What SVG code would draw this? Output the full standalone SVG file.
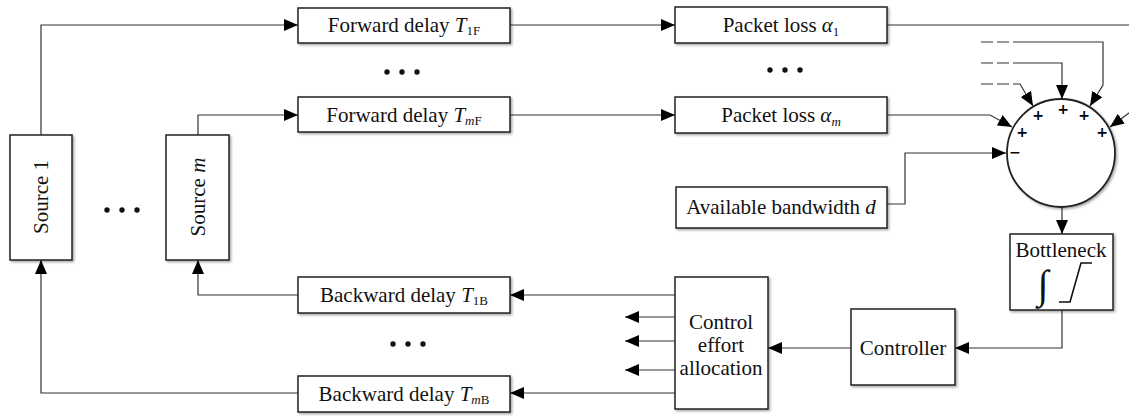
<svg xmlns="http://www.w3.org/2000/svg" width="1129" height="416" viewBox="0 0 1129 416">
<style>
.box{fill:#fff;stroke:#222;stroke-width:1.5;filter:url(#sh)}
.ln{fill:none;stroke:#333;stroke-width:1.2}
.ar{fill:none;stroke:#333;stroke-width:1.2;marker-end:url(#ah)}
.t{font-family:"Liberation Serif","Times New Roman",serif;font-size:21px;fill:#111;text-anchor:middle}
.i{font-style:italic}
.sub{font-size:13px}
.sg{font-family:"DejaVu Sans","Liberation Sans",sans-serif;font-size:14px;font-weight:bold;fill:#000;text-anchor:middle}
.dot{fill:#111}
</style>
<defs>
<filter id="sh" x="-10%" y="-10%" width="130%" height="140%">
<feDropShadow dx="1.5" dy="1.5" stdDeviation="1" flood-color="#000" flood-opacity="0.35"/>
</filter>
<marker id="ah" viewBox="0 0 14 12" refX="14" refY="6" markerWidth="14" markerHeight="12" markerUnits="userSpaceOnUse" orient="auto">
<path d="M0,0 L14,6 L0,12 Z" fill="#000"/>
</marker>
<g id="dots3"><circle cx="0" cy="0" r="2.7"/><circle cx="15" cy="0" r="2.7"/><circle cx="30" cy="0" r="2.7"/></g>
</defs>

<g id="connectors">
<polyline class="ar" points="41,135 41,25 298,25"/>
<polyline class="ar" points="198,135 198,115 298,115"/>
<line class="ar" x1="510" y1="25" x2="675" y2="25"/>
<line class="ar" x1="510" y1="115" x2="675" y2="115"/>
<line class="ln" x1="887" y1="25" x2="1129" y2="25"/>
<polyline class="ar" points="887,115 990,115 1012,127"/>
<polyline class="ar" points="887,204 905,204 905,153 1006,153"/>
<line class="ln" x1="981" y1="42" x2="1015" y2="42" stroke-dasharray="12,4"/>
<polyline class="ar" points="1015,42 1103,42 1103,85 1090,106"/>
<line class="ln" x1="981" y1="63" x2="1015" y2="63" stroke-dasharray="12,4"/>
<polyline class="ar" points="1015,63 1062,63 1062,99"/>
<line class="ln" x1="981" y1="84" x2="1015" y2="84" stroke-dasharray="12,4"/>
<polyline class="ar" points="1015,84 1020,84 1033,106"/>
<line class="ar" x1="1129" y1="113" x2="1110" y2="127"/>
<line class="ar" x1="1062" y1="207" x2="1062" y2="234"/>
<polyline class="ar" points="1062,310 1062,348 955,348"/>
<line class="ar" x1="851" y1="348" x2="768" y2="348"/>
<line class="ar" x1="675" y1="295" x2="510" y2="295"/>
<line class="ar" x1="675" y1="393" x2="510" y2="393"/>
<line class="ar" x1="675" y1="317" x2="625" y2="317"/>
<line class="ar" x1="675" y1="341" x2="625" y2="341"/>
<line class="ar" x1="675" y1="370" x2="625" y2="370"/>
<polyline class="ar" points="298,295 198,295 198,260"/>
<polyline class="ar" points="298,393 41,393 41,260"/>
</g>

<g id="source1">
<rect class="box" x="10" y="135" width="62" height="125"/>
<text class="t" transform="translate(48,197) rotate(-90)">Source 1</text>
</g>
<g id="sourcem">
<rect class="box" x="166" y="135" width="63" height="125"/>
<text class="t" transform="translate(205,197) rotate(-90)">Source  <tspan class="i">m</tspan></text>
</g>

<g id="fwd1">
<rect class="box" x="298" y="8" width="212" height="35"/>
<text class="t" x="404" y="32">Forward delay <tspan class="i">T</tspan><tspan class="sub" dy="3">1F</tspan></text>
</g>
<g id="fwdm">
<rect class="box" x="298" y="97" width="212" height="35"/>
<text class="t" x="404" y="122">Forward delay <tspan class="i">T</tspan><tspan class="sub i" dy="3">m</tspan><tspan class="sub">F</tspan></text>
</g>
<g id="loss1">
<rect class="box" x="675" y="7" width="212" height="36"/>
<text class="t" x="781" y="32">Packet loss  <tspan class="i">α</tspan><tspan class="sub" dy="4">1</tspan></text>
</g>
<g id="lossm">
<rect class="box" x="675" y="97" width="212" height="36"/>
<text class="t" x="781" y="122">Packet loss  <tspan class="i">α</tspan><tspan class="sub i" dy="4">m</tspan></text>
</g>
<g id="bandwidth">
<rect class="box" x="676" y="187" width="211" height="41"/>
<text class="t" x="781" y="214">Available bandwidth <tspan class="i">d</tspan></text>
</g>

<g id="sum">
<circle cx="1061" cy="153" r="54" fill="#fff" stroke="#222" stroke-width="1.8" filter="url(#sh)"/>
<text class="sg" x="1022" y="137">+</text>
<text class="sg" x="1038" y="120">+</text>
<text class="sg" x="1063" y="114">+</text>
<text class="sg" x="1084" y="120">+</text>
<text class="sg" x="1102" y="137">+</text>
<text class="sg" x="1015" y="157">−</text>
</g>

<g id="bottleneck">
<rect class="box" x="1010" y="234" width="103" height="76"/>
<text class="t" x="1061" y="257">Bottleneck</text>
<text class="t" x="1043" y="298" style="font-size:40px">∫</text>
<polyline fill="none" stroke="#111" stroke-width="1.6" points="1059,302 1070,302 1081,263 1092,263"/>
</g>

<g id="controller">
<rect class="box" x="851" y="309" width="104" height="76"/>
<text class="t" x="903" y="355">Controller</text>
</g>

<g id="allocation">
<rect class="box" x="675" y="277" width="93" height="132"/>
<text class="t" x="721" y="329">Control</text>
<text class="t" x="721" y="352">effort</text>
<text class="t" x="721" y="375">allocation</text>
</g>

<g id="bwd1">
<rect class="box" x="298" y="277" width="212" height="36"/>
<text class="t" x="404" y="302">Backward delay  <tspan class="i">T</tspan><tspan class="sub" dy="3">1B</tspan></text>
</g>
<g id="bwdm">
<rect class="box" x="298" y="376" width="212" height="36"/>
<text class="t" x="404" y="401">Backward delay  <tspan class="i">T</tspan><tspan class="sub i" dy="3">m</tspan><tspan class="sub">B</tspan></text>
</g>

<g id="ellipses" class="dot">
<use href="#dots3" x="387" y="72"/>
<use href="#dots3" x="770" y="70"/>
<use href="#dots3" x="107" y="210"/>
<use href="#dots3" x="393" y="344"/>
</g>
</svg>
